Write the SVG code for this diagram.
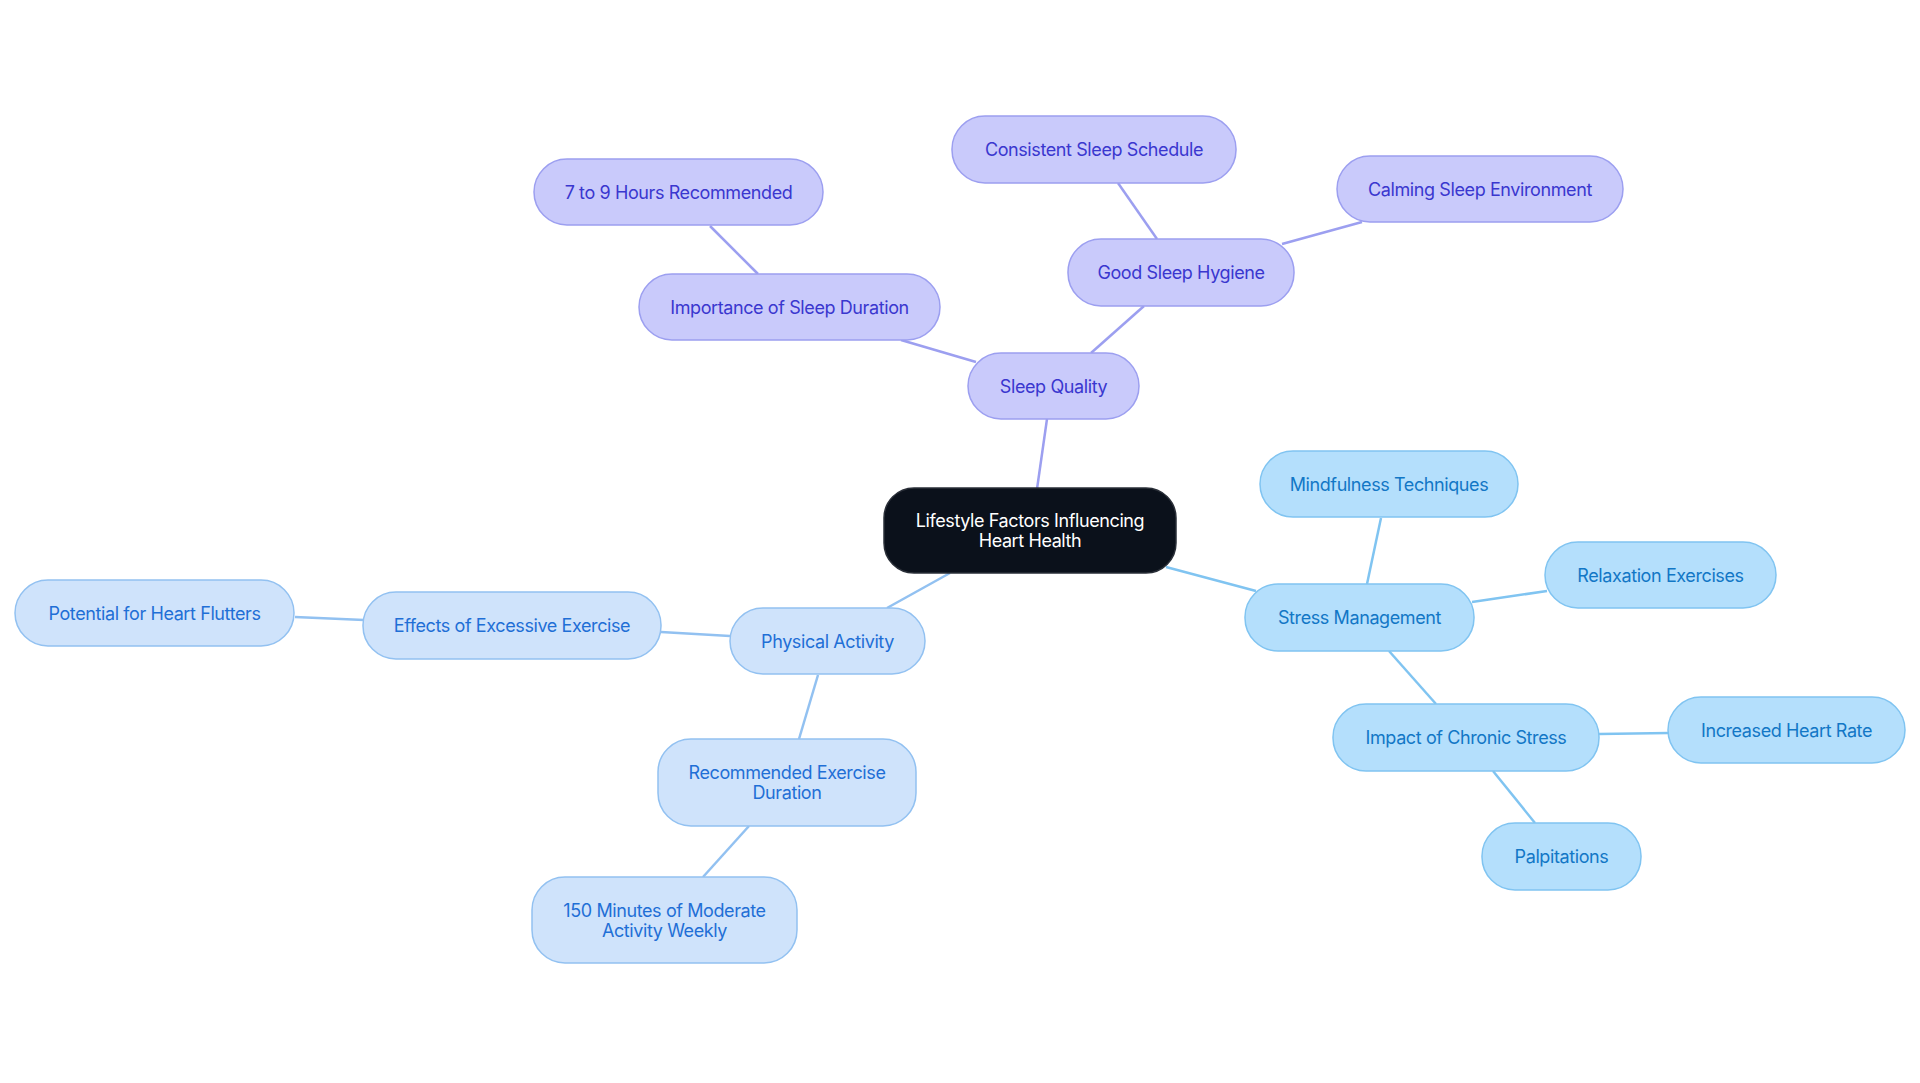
<svg xmlns="http://www.w3.org/2000/svg" width="1920" height="1083" viewBox="0 0 1920 1083">
<style>
text{font-family:Inter,"Noto Sans","Liberation Sans",sans-serif;font-size:18px;letter-spacing:-0.4px;text-anchor:middle;dominant-baseline:central}
.p rect{fill:#c9cafb;stroke:#9c9ff0;stroke-width:1.5}
.p text{fill:#3a37cf}
.b rect{fill:#cfe3fb;stroke:#92c1f1;stroke-width:1.5}
.b text{fill:#1f6fd6}
.c rect{fill:#b4dffc;stroke:#80c4f1;stroke-width:1.5}
.c text{fill:#1277c6}
.r rect{fill:#0b111b;stroke:#2a2f38;stroke-width:1.5}
.r text{fill:#ffffff}
.lp{stroke:#9c9ff0;stroke-width:2.5;fill:none}
.lb{stroke:#92c1f1;stroke-width:2.5;fill:none}
.lc{stroke:#80c4f1;stroke-width:2.5;fill:none}
</style>
<rect width="1920" height="1083" fill="#ffffff"/>
<g id="connectors">
<line class="lp" x1="1037" y1="489" x2="1047" y2="419"/>
<line class="lp" x1="976" y1="362" x2="901" y2="340"/>
<line class="lp" x1="758" y1="274" x2="710" y2="226"/>
<line class="lp" x1="1091" y1="353" x2="1144" y2="306"/>
<line class="lp" x1="1157" y1="239" x2="1118" y2="183"/>
<line class="lp" x1="1282" y1="244" x2="1362" y2="222"/>
<line class="lc" x1="1166" y1="567" x2="1256" y2="591"/>
<line class="lc" x1="1367" y1="584" x2="1381" y2="518"/>
<line class="lc" x1="1472" y1="602" x2="1547" y2="591"/>
<line class="lc" x1="1389" y1="651" x2="1436" y2="704"/>
<line class="lc" x1="1599" y1="734" x2="1669" y2="733"/>
<line class="lc" x1="1493" y1="771" x2="1535" y2="823"/>
<line class="lb" x1="950" y1="573" x2="887" y2="608"/>
<line class="lb" x1="730" y1="636" x2="661" y2="632"/>
<line class="lb" x1="364" y1="620" x2="295" y2="617"/>
<line class="lb" x1="818" y1="675" x2="799" y2="739"/>
<line class="lb" x1="749" y1="826" x2="703" y2="877"/>
</g>
<g id="root" class="r"><rect x="884" y="488" width="292" height="85" rx="30"/><text x="1030" y="520">Lifestyle Factors Influencing</text><text x="1030" y="540">Heart Health</text></g>
<g id="sleep-quality" class="p"><rect x="968" y="353" width="171" height="66" rx="33"/><text x="1053.5" y="386">Sleep Quality</text></g>
<g id="importance" class="p"><rect x="639" y="274" width="301" height="66" rx="33"/><text x="789.5" y="307">Importance of Sleep Duration</text></g>
<g id="hours" class="p"><rect x="534" y="159" width="289" height="66" rx="33"/><text x="678.5" y="192">7 to 9 Hours Recommended</text></g>
<g id="hygiene" class="p"><rect x="1068" y="239" width="226" height="67" rx="33"/><text x="1181" y="272.5">Good Sleep Hygiene</text></g>
<g id="schedule" class="p"><rect x="952" y="116" width="284" height="67" rx="33"/><text x="1094" y="149.5">Consistent Sleep Schedule</text></g>
<g id="environment" class="p"><rect x="1337" y="156" width="286" height="66" rx="33"/><text x="1480" y="189">Calming Sleep Environment</text></g>
<g id="stress" class="c"><rect x="1245" y="584" width="229" height="67" rx="33"/><text x="1359.5" y="617.5">Stress Management</text></g>
<g id="mindfulness" class="c"><rect x="1260" y="451" width="258" height="66" rx="33"/><text x="1389" y="484">Mindfulness Techniques</text></g>
<g id="relaxation" class="c"><rect x="1545" y="542" width="231" height="66" rx="33"/><text x="1660.5" y="575">Relaxation Exercises</text></g>
<g id="chronic" class="c"><rect x="1333" y="704" width="266" height="67" rx="33"/><text x="1466" y="737.5">Impact of Chronic Stress</text></g>
<g id="heart-rate" class="c"><rect x="1668" y="697" width="237" height="66" rx="33"/><text x="1786.5" y="730">Increased Heart Rate</text></g>
<g id="palpitations" class="c"><rect x="1482" y="823" width="159" height="67" rx="33"/><text x="1561.5" y="856.5">Palpitations</text></g>
<g id="physical" class="b"><rect x="730" y="608" width="195" height="66" rx="33"/><text x="827.5" y="641">Physical Activity</text></g>
<g id="excessive" class="b"><rect x="363" y="592" width="298" height="67" rx="33"/><text x="512" y="625.5">Effects of Excessive Exercise</text></g>
<g id="flutters" class="b"><rect x="15" y="580" width="279" height="66" rx="33"/><text x="154.5" y="613">Potential for Heart Flutters</text></g>
<g id="recommended" class="b"><rect x="658" y="739" width="258" height="87" rx="33"/><text x="787" y="772">Recommended Exercise</text><text x="787" y="792">Duration</text></g>
<g id="minutes" class="b"><rect x="532" y="877" width="265" height="86" rx="33"/><text x="664.5" y="910">150 Minutes of Moderate</text><text x="664.5" y="930">Activity Weekly</text></g>
</svg>
